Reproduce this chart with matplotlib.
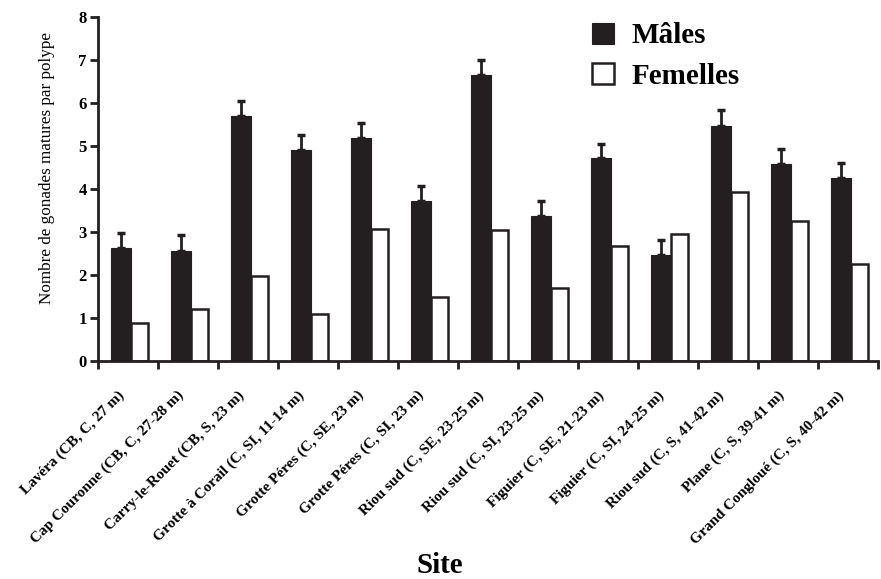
import numpy as np
import matplotlib.pyplot as plt

plt.rcParams['font.family'] = ['Liberation Serif', 'DejaVu Serif']

# Sites sampled, with mean number of mature gonads per polyp
sites = ["Lavéra (CB, C, 27 m)", "Cap Couronne (CB, C, 27-28 m)",
         "Carry-le-Rouet (CB, S, 23 m)", "Grotte à Corail (C, SI, 11-14 m)",
         "Grotte Péres (C, SE, 23 m)", "Grotte Péres (C, SI, 23 m)",
         "Riou sud (C, SE, 23-25 m)", "Riou sud (C, SI, 23-25 m)",
         "Figuier (C, SE, 21-23 m)", "Figuier (C, SI, 24-25 m)",
         "Riou sud (C, S, 41-42 m)", "Plane (C, S, 39-41 m)",
         "Grand Congloué (C, S, 40-42 m)"]
males = [2.62, 2.56, 5.69, 4.90, 5.17, 3.71, 6.65, 3.36, 4.72, 2.46, 5.47, 4.58, 4.25]
males_err = [0.36, 0.36, 0.34, 0.35, 0.35, 0.36, 0.35, 0.36, 0.33, 0.35, 0.36, 0.35, 0.34]
females = [0.87, 1.20, 1.97, 1.09, 3.07, 1.49, 3.03, 1.69, 2.66, 2.95, 3.93, 3.26, 2.25]

fig = plt.figure(figsize=(8.81, 5.79), dpi=100)
ax = fig.add_axes([0.111, 0.377, 0.8856, 0.594])

x = np.arange(len(sites))
wm, wf = 0.33, 0.29
ax.bar(x + 0.22, males, width=wm, align='edge', color='#231f20',
       edgecolor='#231f20', linewidth=0.8, label='Mâles', zorder=2)
ax.errorbar(x + 0.22 + wm / 2, males, yerr=[np.zeros(len(males)), males_err],
            fmt='none', ecolor='#231f20', elinewidth=2, capsize=3, capthick=2.5, zorder=3)
ax.bar(x + 0.22 + wm, females, width=wf, align='edge', color='white',
       edgecolor='#231f20', linewidth=1.8, label='Femelles', zorder=2)

ax.set_xlim(0, len(sites))
ax.set_ylim(0, 8)
ax.set_yticks(range(9))
ax.set_yticklabels([str(v) for v in range(9)], fontweight='bold', fontsize=12)
ax.set_xticks(np.arange(len(sites) + 1))
ax.set_xticklabels([])
# site names sit on invisible minor ticks, a little left of each group centre
ax.set_xticks(x + 0.32, minor=True)
ax.set_xticklabels(sites, minor=True, rotation=45, ha='right', va='top',
                   rotation_mode='anchor', fontweight='bold', fontsize=11)
ax.tick_params(axis='x', which='minor', length=0, pad=20)
ax.tick_params(axis='both', which='major', direction='out', length=6, width=2,
               color='#231f20')
ax.tick_params(axis='y', pad=2)

for s in ['top', 'right']:
    ax.spines[s].set_visible(False)
for s in ['left', 'bottom']:
    ax.spines[s].set_linewidth(2)
    ax.spines[s].set_color('#231f20')

ax.set_ylabel('Nombre de gonades matures par polype', fontsize=12.3)
ax.yaxis.set_label_coords(-0.055, 0.56)
ax.set_xlabel('Site', fontsize=21, fontweight='bold')
ax.xaxis.set_label_coords(0.438, -0.555)

ax.legend(loc='upper left', bbox_to_anchor=(0.6, 1.06), frameon=False,
          prop={'weight': 'bold', 'size': 21}, handlelength=0.75, handleheight=0.75,
          handletextpad=0.6, labelspacing=0.45)

fig.savefig('out.png', dpi=100)
